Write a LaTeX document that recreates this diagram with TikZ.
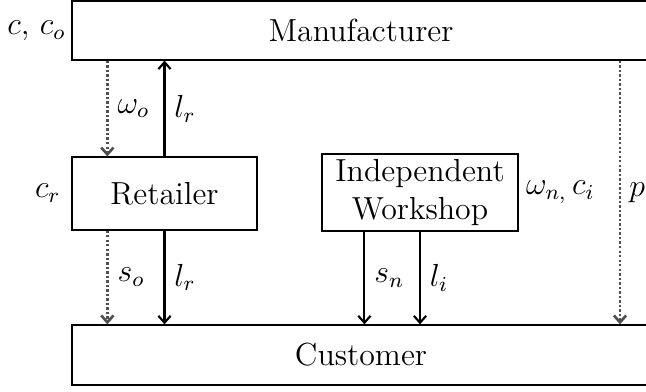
\documentclass[tikz,border=0pt]{standalone}
\usepackage{xcolor}
\usetikzlibrary{positioning,calc,arrows.meta}
\definecolor{dotgray}{RGB}{80,80,80}
\tikzset{
	agent/.style={draw, line width=0.45pt, inner sep=0pt, font=\large, align=center},
	flow/.style={line width=0.8pt, -{Straight Barb[length=2.6pt,width=4.6pt]}},
	price/.style={dotgray, line width=1pt, dash pattern=on 0.9pt off 0.8pt, -{Straight Barb[length=2.6pt,width=4.6pt]}},
	lab/.style={font=\large}
}
\begin{document}
\begin{tikzpicture}[x=0.376pt,y=-0.376pt]
	\clip (0,0) rectangle (646,392);
	\node[agent, minimum width=217.3pt, minimum height=22.2pt] (man) at (361,30.5) {Manufacturer};
	\node[agent, minimum width=69.6pt, minimum height=27.4pt] (ret) at (164.5,193.5) {Retailer};
	\node[agent, minimum width=73.7pt, minimum height=29pt] (iw) at (420,192.5) {Independent\\Workshop};
	\node[agent, minimum width=217.3pt, minimum height=22.6pt] (cus) at (361,355) {Customer};
	% costs beside the boxes
	\node[lab, inner sep=2pt, left=0pt of man.west] (cman) {$c$, $c_o$};
	\node[lab, left=0.5pt of ret.west] (cret) {$c_r$};
	\node[lab, inner sep=2.6pt, right=0pt of iw.east] (ciw) {$\omega_{n,}\, c_i$};
	% where the side flows leave the boxes
	\coordinate (ro) at ($(ret.west)+(36,0)$);
	\coordinate (in) at ($(iw.west)+(43,0)$);
	\coordinate (mp) at (620,0);
	\draw[price] (ro |- man.south) -- (ro |- ret.north) node[lab, midway, right, text=black] (wo) {$\omega_o$};
	\draw[flow] (ret.north) -- (ret.north |- man.south) node[lab, midway, right] (lru) {$l_r$};
	\draw[price] (ro |- ret.south) -- (ro |- cus.north) node[lab, midway, right, text=black] (so) {$s_o$};
	\draw[flow] (ret.south) -- (ret.south |- cus.north) node[lab, midway, right] (lrd) {$l_r$};
	\draw[flow] (in |- iw.south) -- (in |- cus.north) node[lab, midway, right] (sn) {$s_n$};
	\draw[flow] (iw.south) -- (iw.south |- cus.north) node[lab, midway, right] (li) {$l_i$};
	\draw[price] (mp |- man.south) -- (mp |- cus.north) node[lab, midway, right, inner sep=3pt, text=black] (pm) {$p$};
\end{tikzpicture}
\end{document}
